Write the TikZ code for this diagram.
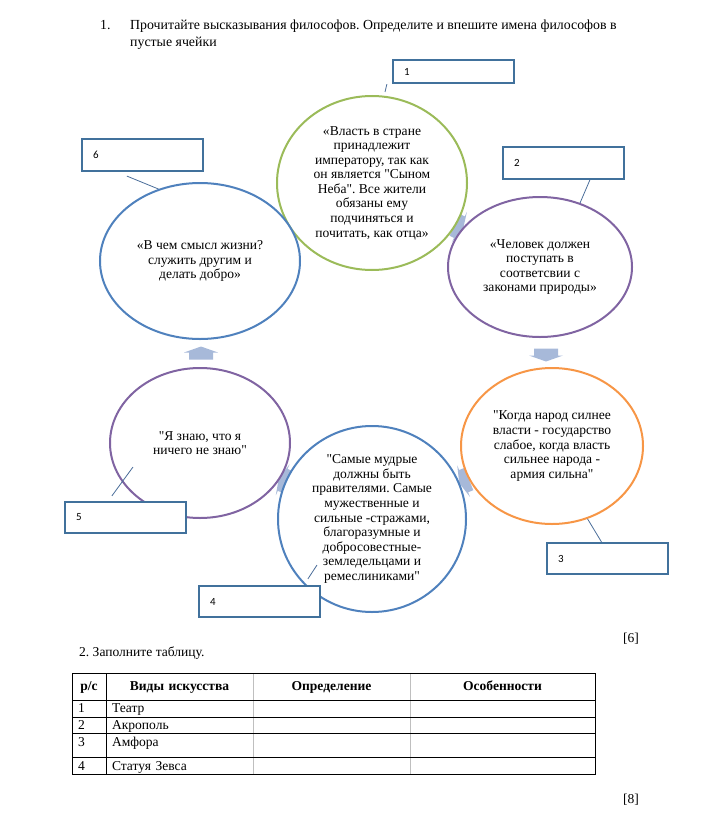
\documentclass[tikz,border=0pt]{standalone}
\usepackage{fontspec}
\setmainfont{Liberation Serif}
\newfontfamily\boxfont{Carlito}
\usepackage{amsmath,amssymb,tikz,xcolor}
\usetikzlibrary{matrix,shapes.geometric}
\frenchspacing

\definecolor{smartgreen}{HTML}{9BBB59}
\definecolor{smartpurple}{HTML}{8064A2}
\definecolor{smartorange}{HTML}{F79646}
\definecolor{smartblue}{HTML}{4F81BD}
\definecolor{boxblue}{HTML}{41719C}
\definecolor{arrowblue}{HTML}{A7B9D9}
\definecolor{leaderblue}{HTML}{4A6D99}

\begin{document}
\begin{tikzpicture}[x=1bp,y=-1bp,
        every node/.style={font=\fontsize{13.6}{14.6}\selectfont,inner sep=0pt},
        bubble/.style={draw=#1,line width=2bp,fill=white,ellipse,inner sep=0pt},
        quote/.style={align=center,inner sep=0pt},
        namebox/.style={draw=boxblue,line width=2.2bp,fill=white,minimum width=121bp,text width=99bp,
            inner xsep=11bp,inner ysep=0pt,align=left,font=\boxfont\fontsize{11}{12}\selectfont},
        leader/.style={draw=leaderblue,line width=0.8bp},
        tabline/.style={draw=black,line width=0.9bp},
        tabgray/.style={draw=black!25,line width=0.9bp},
        cycarrow/.pic={\fill[arrowblue] (-6.5,-12) -- (0.5,-12) -- (0.5,-17) -- (6.5,0) -- (0.5,17) -- (0.5,12) -- (-6.5,12) -- cycle;}]
        \useasboundingbox (0,0) rectangle (720,830);

        % task 1
        \node[anchor=base west,font=\fontsize{13.9}{15}\selectfont] (num1) at (100,29) {1.};
        \node[anchor=base west,font=\fontsize{13.9}{15}\selectfont] (task1a) at (130,29) {Прочитайте высказывания философов. Определите и впешите имена философов в};
        \node[anchor=base west,font=\fontsize{13.9}{15}\selectfont] (task1b) at (130,46) {пустые ячейки};

        % arrows of the cycle, mostly under the ellipses
        \pic[rotate=-26.6,xscale=0.7] (a12) at (459,227) {cycarrow};
        \pic[rotate=-90] (a23) at (546,355) {cycarrow};
        \pic[rotate=202,xscale=0.8] (a34) at (464,481) {cycarrow};
        \pic[rotate=156,xscale=0.7] (a45) at (283,480) {cycarrow};
        \pic[rotate=90] (a56) at (201,353) {cycarrow};

        \node[bubble=smartgreen,minimum width=190bp,minimum height=174bp] (e1) at (372,183) {};
        \node[bubble=smartpurple,minimum width=184bp,minimum height=140bp] (e2) at (540,267) {};
        \node[bubble=smartorange,minimum width=182bp,minimum height=156bp] (e3) at (552,446) {};
        \node[bubble=smartblue,minimum width=188bp,minimum height=186bp] (e4) at (372,519) {};
        \node[bubble=smartpurple,minimum width=180bp,minimum height=150bp] (e5) at (200,443) {};
        \node[bubble=smartblue,minimum width=200bp,minimum height=156bp] (e6) at (200,261) {};

        \node[quote] (q1) at (e1) {«Власть в стране\\принадлежит\\императору, так как\\он является \textquotedbl Сыном\\Неба\textquotedbl. Все жители\\обязаны ему\\подчиняться и\\почитать, как отца»};
        \node[quote] (q2) at (e2) {«Человек должен\\поступать в\\соответсвии с\\законами природы»};
        \node[quote] (q3) at (e3) {\textquotedbl Когда народ силнее\\власти - государство\\слабое, когда власть\\сильнее народа -\\армия сильна\textquotedbl};
        \node[quote] (q4) at (e4) {\textquotedbl Самые мудрые\\должны быть\\правителями. Самые\\мужественные и\\сильные -стражами,\\благоразумные и\\добросовестные-\\земледельцами и\\ремеслиниками\textquotedbl};
        \node[quote] (q5) at (e5) {\textquotedbl Я знаю, что я\\ничего не знаю\textquotedbl};
        \node[quote] (q6) at (e6) {«В чем смысл жизни?\\служить другим и\\делать добро»};

        % boxes for the names
        \node[namebox,minimum height=23bp] (b1) at (453.5,71.5) {1};
        \node[namebox,minimum height=32bp] (b2) at (563.5,163) {2};
        \node[namebox,minimum height=31bp] (b3) at (607.5,558.5) {3};
        \node[namebox,minimum height=31bp] (b4) at (259.5,601.5) {4};
        \node[namebox,minimum height=31bp] (b5) at (125.5,517.5) {5};
        \node[namebox,minimum height=32bp] (b6) at (142.5,155) {6};

        \draw[leader] ([shift={(-5,0)}]b1.south west) -- ([shift={(13,-3)}]e1.north);
        \draw[leader] (b2.-33) -- (e2.58);
        \draw[leader] (b3.110) -- (e3.-64);
        \draw[leader] ([shift={(110,-6)}]b4.north west) -- ([shift={(-55,46)}]e4.center);
        \draw[leader] ([shift={(48,-5)}]b5.north west) -- ([shift={(-67,24)}]e5.center);
        \draw[leader] ([shift={(46,4)}]b6.south west) -- (e6.120);

        \node[anchor=base east] (score6) at (639,642) {[6]};

        % task 2
        \node[anchor=base west] (task2) at (79,656) {2. Заполните таблицу.};
        \matrix (tab) [matrix of nodes,nodes in empty cells,anchor=north west,inner sep=0pt,outer sep=0pt,
            column sep=0pt,row sep=0pt,
            nodes={inner xsep=6bp,inner ysep=0pt,outer sep=0pt,anchor=base,align=left},
            column 1/.style={nodes={text width=22bp}},
            column 2/.style={nodes={text width=135bp}},
            column 3/.style={nodes={text width=145bp}},
            column 4/.style={nodes={text width=173bp}},
            row 1/.style={nodes={font=\fontsize{13.6}{14.6}\selectfont\bfseries,align=center,text height=17bp,text depth=10bp}},
            row 2/.style={nodes={text height=12bp,text depth=5bp}},
            row 3/.style={nodes={text height=12bp,text depth=4bp}},
            row 4/.style={nodes={text height=13bp,text depth=11bp}},
            row 5/.style={nodes={text height=13bp,text depth=4bp}}] at (72,673)
        {
            р/с & Виды искусства & Определение & Особенности \\
            1   & Театр          &             &             \\
            2   & Акрополь       &             &             \\
            3   & Амфора         &             &             \\
            4   & Статуя Зевса   &             &             \\
        };
        \foreach \c in {2,3}
            \draw[tabgray] (tab-1-\c.north east) -- (tab-5-\c.south east);
        \draw[tabline] (tab-1-1.north east) -- (tab-5-1.south east);
        \foreach \r in {1,...,4}
            \draw[tabline] (tab-\r-1.south west) -- (tab-\r-4.south east);
        \draw[tabline] (tab-1-1.north west) rectangle (tab-5-4.south east);

        \node[anchor=base east] (score8) at (639,803) {[8]};
    \end{tikzpicture}
\end{document}
